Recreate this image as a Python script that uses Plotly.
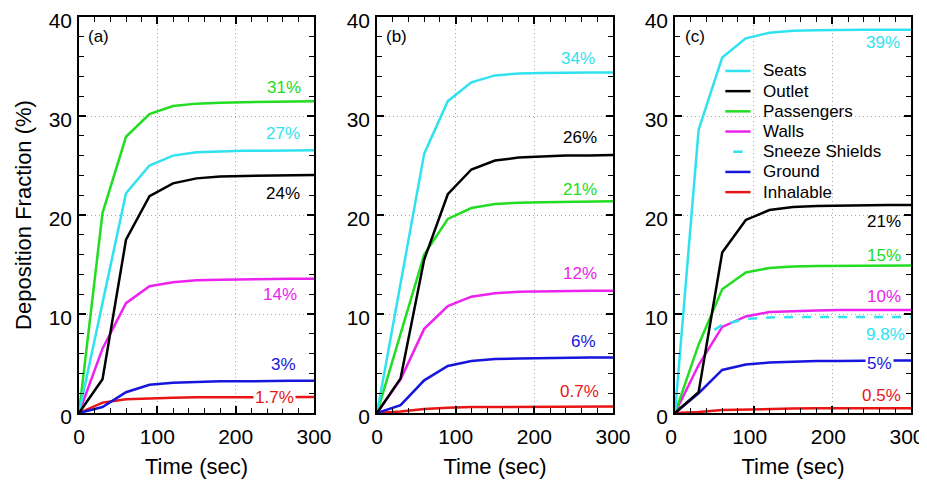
import plotly.graph_objects as go

# ---------------- data ----------------
time = [0, 30, 60, 90, 120, 150, 180, 210, 240, 270, 300]
sneeze_time = [50, 60, 90, 120, 150, 180, 210, 240, 270, 300]

series_names = ["Seats", "Outlet", "Passengers", "Walls", "Sneeze Shields", "Ground", "Inhalable"]

# panel (a)
seats_a = [0, 11.2, 22.2, 25.0, 26.0, 26.35, 26.45, 26.5, 26.5, 26.55, 26.55]
outlet_a = [0, 3.4, 17.5, 21.9, 23.2, 23.7, 23.9, 23.95, 24.0, 24.0, 24.05]
passengers_a = [0, 20.2, 27.9, 30.2, 31.0, 31.25, 31.35, 31.4, 31.45, 31.45, 31.5]
walls_a = [0, 6.5, 11.1, 12.8, 13.2, 13.4, 13.45, 13.5, 13.5, 13.55, 13.55]
ground_a = [0, 0.6, 2.1, 2.85, 3.05, 3.15, 3.2, 3.2, 3.25, 3.25, 3.25]
inhalable_a = [0, 1.05, 1.4, 1.5, 1.55, 1.58, 1.6, 1.6, 1.62, 1.62, 1.62]

# panel (b)
seats_b = [0, 13.1, 26.2, 31.5, 33.4, 34.1, 34.3, 34.35, 34.4, 34.4, 34.4]
outlet_b = [0, 3.5, 15.5, 22.1, 24.6, 25.5, 25.8, 25.9, 26.0, 26.0, 26.05]
passengers_b = [0, 8.0, 16.0, 19.6, 20.7, 21.1, 21.25, 21.3, 21.35, 21.35, 21.4]
walls_b = [0, 3.4, 8.5, 10.8, 11.75, 12.1, 12.25, 12.3, 12.3, 12.35, 12.35]
ground_b = [0, 0.8, 3.3, 4.75, 5.25, 5.45, 5.5, 5.55, 5.55, 5.6, 5.6]
inhalable_b = [0, 0.15, 0.4, 0.54, 0.6, 0.62, 0.64, 0.65, 0.65, 0.65, 0.65]

# panel (c)
seats_c = [0, 28.6, 35.9, 37.85, 38.4, 38.6, 38.65, 38.7, 38.7, 38.7, 38.7]
outlet_c = [0, 2.1, 16.2, 19.5, 20.5, 20.8, 20.9, 20.95, 21.0, 21.0, 21.0]
passengers_c = [0, 6.9, 12.5, 14.2, 14.65, 14.8, 14.85, 14.85, 14.9, 14.9, 14.9]
walls_c = [0, 4.85, 8.7, 9.75, 10.2, 10.3, 10.35, 10.4, 10.4, 10.4, 10.4]
sneeze_c = [8.4, 8.9, 9.5, 9.65, 9.7, 9.7, 9.7, 9.7, 9.7, 9.7]
ground_c = [0, 2.0, 4.35, 4.9, 5.1, 5.2, 5.25, 5.25, 5.3, 5.3, 5.3]
inhalable_c = [0, 0.1, 0.3, 0.37, 0.42, 0.45, 0.47, 0.47, 0.48, 0.48, 0.48]

panel_tags = ["(a)", "(b)", "(c)"]

# end-value labels: (text, series key, x, y)
labels_a = [("31%", "Passengers", 262, 32.9), ("27%", "Seats", 261, 28.2),
            ("24%", "Outlet", 261, 22.2), ("14%", "Walls", 257, 12.0),
            ("3%", "Ground", 261, 4.95), ("1.7%", "Inhalable", 250, 1.6)]
labels_b = [("34%", "Seats", 256, 35.8), ("26%", "Outlet", 258, 27.85),
            ("21%", "Passengers", 258, 22.6), ("12%", "Walls", 258, 14.1),
            ("6%", "Ground", 262, 7.27), ("0.7%", "Inhalable", 258, 2.15)]
labels_c = [("39%", "Seats", 264, 37.4), ("21%", "Outlet", 266, 19.3),
            ("15%", "Passengers", 266, 15.96), ("10%", "Walls", 266, 11.8),
            ("9.8%", "Sneeze Shields", 267, 7.88), ("5%", "Ground", 259.6, 5.0),
            ("0.5%", "Inhalable", 262.6, 1.75)]
boxed_labels = ["1.7%", "5%"]

colors = {"Seats": "#30E2F0", "Outlet": "#000000", "Passengers": "#22DD22",
          "Walls": "#EE22EE", "Sneeze Shields": "#30E2F0", "Ground": "#1515DD",
          "Inhalable": "#E81515"}

FONT = "Liberation Sans, Arial, sans-serif"

panels = [
    {"Seats": seats_a, "Outlet": outlet_a, "Passengers": passengers_a,
     "Walls": walls_a, "Ground": ground_a, "Inhalable": inhalable_a},
    {"Seats": seats_b, "Outlet": outlet_b, "Passengers": passengers_b,
     "Walls": walls_b, "Ground": ground_b, "Inhalable": inhalable_b},
    {"Seats": seats_c, "Outlet": outlet_c, "Passengers": passengers_c,
     "Walls": walls_c, "Ground": ground_c, "Inhalable": inhalable_c},
]
all_labels = [labels_a, labels_b, labels_c]

fig = go.Figure()
draw_order = ["Inhalable", "Ground", "Walls", "Passengers", "Seats", "Outlet"]
for i, pdata in enumerate(panels):
    xa = "x" if i == 0 else f"x{i+1}"
    ya = "y" if i == 0 else f"y{i+1}"
    for name in draw_order:
        fig.add_trace(go.Scatter(x=time, y=pdata[name], mode="lines", name=name,
                                 line=dict(color=colors[name], width=2.5),
                                 xaxis=xa, yaxis=ya, showlegend=False))
    if i == 2:
        fig.add_trace(go.Scatter(x=sneeze_time, y=sneeze_c, mode="lines",
                                 name="Sneeze Shields",
                                 line=dict(color=colors["Sneeze Shields"], width=2.5, dash="dash"),
                                 xaxis=xa, yaxis=ya, showlegend=False))

annotations = []
for i, labs in enumerate(all_labels):
    xa = "x" if i == 0 else f"x{i+1}"
    ya = "y" if i == 0 else f"y{i+1}"
    for text, key, lx, ly in labs:
        ann = dict(x=lx, y=ly, xref=xa, yref=ya, text=text, showarrow=False,
                   font=dict(family=FONT, size=17, color=colors[key]),
                   xanchor="center", yanchor="middle")
        if text in boxed_labels:
            ann.update(bgcolor="white", borderpad=1)
        annotations.append(ann)
    annotations.append(dict(x=25, y=38.0, xref=xa, yref=ya, text=panel_tags[i],
                            showarrow=False, font=dict(family=FONT, size=17, color="black"),
                            xanchor="center", yanchor="middle"))

# manual legend inside panel (c)
shapes = []
leg_y0, leg_step = 34.55, 2.04
for k, name in enumerate(series_names):
    yy = leg_y0 - k * leg_step
    if name == "Sneeze Shields":
        x0, x1 = 74, 86
    else:
        x0, x1 = 64, 96
    shapes.append(dict(type="line", xref="x3", yref="y3", x0=x0, x1=x1, y0=yy, y1=yy,
                       line=dict(color=colors[name], width=2.5)))
    annotations.append(dict(x=109, y=yy, xref="x3", yref="y3", text=name, showarrow=False,
                            font=dict(family=FONT, size=17, color="black"),
                            xanchor="left", yanchor="middle"))

# page body has an 8px margin: figure is sized/shifted to compensate
domains = [[0.07726, 0.33297], [0.40152, 0.65832], [0.72579, 0.98259]]

axis_common = dict(showline=True, linecolor="black", linewidth=1.5, mirror="allticks",
                   ticks="inside", ticklen=7, tickwidth=1.5, tickcolor="black",
                   showgrid=True, gridcolor="#a8a8a8", griddash="1px,3px", gridwidth=1.2,
                   zeroline=False, automargin=False, ticklabeloverflow="allow",
                   tickfont=dict(family=FONT, size=21, color="black"))

layout = dict(width=919, height=473, margin=dict(l=0, r=0, t=9, b=68, autoexpand=False),
              plot_bgcolor="white", paper_bgcolor="white",
              font=dict(family=FONT, color="black"),
              annotations=annotations, shapes=shapes, showlegend=False)

for i in range(3):
    xk = "xaxis" if i == 0 else f"xaxis{i+1}"
    yk = "yaxis" if i == 0 else f"yaxis{i+1}"
    ya = "y" if i == 0 else f"y{i+1}"
    xa = "x" if i == 0 else f"x{i+1}"
    layout[xk] = dict(axis_common, domain=domains[i], anchor=ya, range=[0, 300],
                      tick0=0, dtick=100, ticklabelstandoff=4,
                      ticklabelshift=(-4 if i == 2 else 0),
                      minor=dict(ticks="inside", ticklen=5, tickwidth=1.2, tickcolor="black",
                                 dtick=20, showgrid=False),
                      title=dict(text="Time (sec)", font=dict(family=FONT, size=22), standoff=12))
    ydict = dict(axis_common, domain=[0, 1], anchor=xa, range=[0, 40], tick0=0, dtick=10,
                 ticklabelstandoff=1, ticklabelshift=4,
                 minor=dict(ticks="inside", ticklen=5, tickwidth=1.2, tickcolor="black",
                            dtick=2, showgrid=False))
    if i == 0:
        ydict["title"] = dict(text="Deposition Fraction (%)", font=dict(family=FONT, size=22),
                              standoff=11)
    layout[yk] = ydict

fig.update_layout(**layout)
fig.write_html("out.html")
